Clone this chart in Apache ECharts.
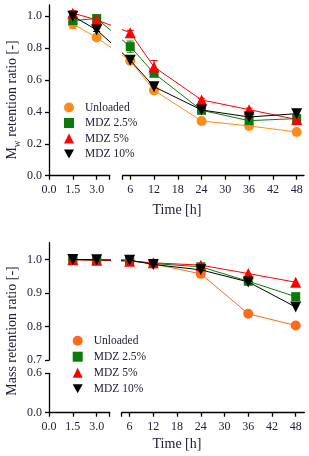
<!DOCTYPE html>
<html>
<head>
<meta charset="utf-8">
<script src="https://cdn.jsdelivr.net/npm/echarts@6/dist/echarts.min.js"></script>
<style>
html,body{margin:0;padding:0;background:#fff;}
#chart{width:309px;height:456px;}
</style>
</head>
<body>
<div id="chart"></div>
<script>
// ---------------- data ----------------
const times = [1.5, 3, 6, 12, 24, 36, 48];
const seriesNames = ['Unloaded', 'MDZ 2.5%', 'MDZ 5%', 'MDZ 10%'];

// Mw retention ratio (top panel)
const mwUnloaded = [0.952, 0.866, 0.721, 0.535, 0.343, 0.312, 0.274];
const mwMdz25    = [0.972, 0.985, 0.809, 0.642, 0.410, 0.345, 0.358];
const mwMdz5     = [1.019, 0.977, 0.896, 0.682, 0.475, 0.414, 0.352];
const mwMdz10    = [1.000, 0.914, 0.724, 0.558, 0.412, 0.368, 0.389];
// Mw error bars (SD)
const mwErrUnloaded = [0.030, 0.010, 0.010, 0.010, 0.010, 0.010, 0.010];
const mwErrMdz25    = [0.020, 0.010, 0.035, 0.020, 0.010, 0.010, 0.010];
const mwErrMdz5     = [0.015, 0.010, 0.015, 0.040, 0.010, 0.010, 0.010];
const mwErrMdz10    = [0.010, 0.010, 0.010, 0.010, 0.010, 0.010, 0.010];

// Mass retention ratio (bottom panel)
const massUnloaded = [1.000, 0.998, 0.997, 0.987, 0.957, 0.838, 0.803];
const massMdz25    = [1.000, 0.998, 0.996, 0.988, 0.978, 0.935, 0.889];
const massMdz5     = [0.999, 0.998, 0.995, 0.990, 0.983, 0.958, 0.932];
const massMdz10    = [1.000, 0.999, 0.998, 0.985, 0.969, 0.933, 0.858];

// tick labels
const xTicksLeft = [0, 1.5, 3.0];
const xTicksRight = [6, 12, 18, 24, 30, 36, 42, 48];
const yTicksMw = [0, 0.2, 0.4, 0.6, 0.8, 1.0];
const yTicksMassUpper = [0.7, 0.8, 0.9, 1.0];
const yTicksMassLower = [0, 0.6];

// ---------------- styling ----------------
const FONT = "'Liberation Serif', 'Times New Roman', serif";
const TXT = '#20203a';
const colorsTop = ['#ff8c1a', '#0a7a0a', '#ff0000', '#000000'];
const colorsBot = ['#ff6a1a', '#0a7a0a', '#ff0000', '#000000'];
const symbols = ['circle', 'rect', 'triangle', 'triangle'];
const symbolRot = [0, 0, 0, 180];
const symbolSizes = [10, 9, 11, 11];
const legendIcons = ['circle', 'rect', 'triangle', 'path://M0,0L10,0L5,9Z'];

const chart = echarts.init(document.getElementById('chart'), null, {renderer: 'canvas'});

const axisLineStyle = {show: true, lineStyle: {color: '#000', width: 1.3}};
const tickStyle = {show: true, length: 4, lineStyle: {color: '#000', width: 1.3}};
const labelStyle = {color: TXT, fontFamily: FONT, fontSize: 12};

// grids: 0 top-left, 1 top-right, 2 bottom-upper-left, 3 bottom-upper-right, 4 bottom-lower-left, 5 bottom-lower-right
const grids = [
  {left: 49, top: 5, width: 60.7, height: 170.7},
  {left: 122.7, top: 5, width: 181.3, height: 170.7},
  {left: 49, top: 242.7, width: 60.7, height: 117.3},
  {left: 121.7, top: 242.7, width: 182.6, height: 117.3},
  {left: 49, top: 373.3, width: 60.7, height: 39.4},
  {left: 121.7, top: 373.3, width: 182.6, height: 39.4}
];

function leftX(grid, show) {
  return {
    type: 'value', gridIndex: grid, min: 0, max: 3.82, show: show,
    axisLine: Object.assign({onZero: false}, axisLineStyle),
    axisTick: Object.assign({customValues: xTicksLeft.concat([3.82])}, tickStyle),
    axisLabel: Object.assign({customValues: xTicksLeft, margin: 8, formatter: v => v.toFixed(1)}, labelStyle),
    splitLine: {show: false}
  };
}
function rightX(grid, show, mn, mx) {
  return {
    type: 'value', gridIndex: grid, min: mn, max: mx, show: show,
    axisLine: Object.assign({onZero: false}, axisLineStyle),
    axisTick: Object.assign({customValues: [mn].concat(xTicksRight)}, tickStyle),
    axisLabel: Object.assign({customValues: xTicksRight, margin: 8, formatter: v => String(v)}, labelStyle),
    splitLine: {show: false}
  };
}
function yAx(grid, show, mn, mx, ticks) {
  return {
    type: 'value', gridIndex: grid, min: mn, max: mx, show: show,
    axisLine: Object.assign({onZero: false}, axisLineStyle),
    axisTick: Object.assign({customValues: ticks || []}, tickStyle),
    axisLabel: Object.assign({customValues: ticks || [], margin: 7, formatter: v => v.toFixed(1)}, labelStyle),
    splitLine: {show: false}
  };
}

const xAxes = [
  leftX(0, true),
  rightX(1, true, 4.1, 49.85),
  leftX(2, false),
  rightX(3, false, 4.0, 50.17),
  leftX(4, true),
  rightX(5, true, 4.0, 50.17)
];
const yAxes = [
  yAx(0, true, 0, 1.07, yTicksMw),
  yAx(1, false, 0, 1.07),
  yAx(2, true, 0.7, 1.05, yTicksMassUpper),
  yAx(3, false, 0.7, 1.05),
  yAx(4, true, 0, 0.6, yTicksMassLower),
  yAx(5, false, 0, 0.6)
];

const panels = [
  {left: 0, right: 1, colors: colorsTop, values: [mwUnloaded, mwMdz25, mwMdz5, mwMdz10],
   errors: [mwErrUnloaded, mwErrMdz25, mwErrMdz5, mwErrMdz10]},
  {left: 2, right: 3, colors: colorsBot, values: [massUnloaded, massMdz25, massMdz5, massMdz10], errors: null}
];

const BREAK = 4; // hours: break between the two x segments
const series = [];
panels.forEach(p => {
  p.values.forEach((vals, i) => {
    const col = p.colors[i];
    [p.left, p.right].forEach(g => {
      const idx = times.map((t, k) => k).filter(k => (g === p.left) ? times[k] < BREAK : times[k] > BREAK);
      if (p.errors) {
        const err = p.errors[i];
        series.push({
          type: 'custom', xAxisIndex: g, yAxisIndex: g, silent: true, z: 1,
          data: idx.map(k => [times[k], vals[k], err[k]]),
          renderItem: (params, api) => {
            const x = api.value(0), y = api.value(1), e = api.value(2);
            const lo = api.coord([x, y - e]), hi = api.coord([x, y + e]);
            const w = 3.5;
            const st = {stroke: col, lineWidth: 1};
            return {type: 'group', children: [
              {type: 'line', shape: {x1: lo[0], y1: lo[1], x2: hi[0], y2: hi[1]}, style: st},
              {type: 'line', shape: {x1: lo[0] - w, y1: lo[1], x2: lo[0] + w, y2: lo[1]}, style: st},
              {type: 'line', shape: {x1: hi[0] - w, y1: hi[1], x2: hi[0] + w, y2: hi[1]}, style: st}
            ]};
          }
        });
      }
      series.push({
        type: 'line', name: seriesNames[i], xAxisIndex: g, yAxisIndex: g,
        data: idx.map(k => [times[k], vals[k]]),
        symbol: symbols[i], symbolRotate: symbolRot[i], symbolSize: symbolSizes[i],
        showSymbol: true, animation: false, clip: true,
        itemStyle: {color: col, opacity: 1},
        lineStyle: {color: col, width: 1},
        z: 3 + i
      });
    });
  });
});

function legendFor(left, top, colors, gap) {
  return {
    orient: 'vertical', left: left, top: top, padding: 0, itemWidth: 10, itemHeight: 10, itemGap: gap,
    selectedMode: false,
    textStyle: {fontFamily: FONT, fontSize: 11.5, color: TXT, lineHeight: 12, padding: [0, 0, 0, 6]},
    data: seriesNames.map((n, i) => ({name: n, icon: legendIcons[i], itemStyle: {color: colors[i]}}))
  };
}

const graphics = [
  {type: 'text', x: 177, y: 210, style: {text: 'Time [h]', font: '14px ' + FONT, fill: TXT, textAlign: 'center', textVerticalAlign: 'middle'}},
  {type: 'text', x: 177, y: 444, style: {text: 'Time [h]', font: '14px ' + FONT, fill: TXT, textAlign: 'center', textVerticalAlign: 'middle'}},
  {type: 'text', x: 12.5, y: 100, rotation: Math.PI / 2,
   style: {text: '{a|M}{b|w}{a| retention ratio [-]}', textAlign: 'center', textVerticalAlign: 'middle', fill: TXT,
     rich: {a: {fontFamily: FONT, fontSize: 14, lineHeight: 20, verticalAlign: 'middle', color: TXT},
            b: {fontFamily: FONT, fontSize: 9.5, lineHeight: 9, verticalAlign: 'bottom', color: TXT}}}},
  {type: 'text', x: 12.5, y: 331, rotation: Math.PI / 2,
   style: {text: 'Mass retention ratio [-]', font: '14px ' + FONT, fill: TXT, textAlign: 'center', textVerticalAlign: 'middle'}}
];

const option = {
  animation: false,
  backgroundColor: '#fff',
  textStyle: {fontFamily: FONT},
  grid: grids.map(g => Object.assign({containLabel: false}, g)),
  xAxis: xAxes,
  yAxis: yAxes,
  legend: [legendFor(64, 101.5, colorsTop, 3.5), legendFor(72.7, 334.7, colorsBot, 4)],
  graphic: graphics,
  series: series
};
chart.setOption(option);

// Bridge the line segments across the x-axis break, using the library's own coordinate conversion.
const bridges = [];
const iL = times.indexOf(3), iR = times.indexOf(6);
panels.forEach(p => {
  p.values.forEach((vals, i) => {
    const col = p.colors[i];
    const pL = chart.convertToPixel({gridIndex: p.left}, [times[iL], vals[iL]]);
    const pR = chart.convertToPixel({gridIndex: p.right}, [times[iR], vals[iR]]);
    const rInL = chart.convertFromPixel({gridIndex: p.left}, pR);
    const lInR = chart.convertFromPixel({gridIndex: p.right}, pL);
    const common = {type: 'line', showSymbol: false, symbol: 'none', silent: true, clip: true, animation: false,
      lineStyle: {color: col, width: 1}, z: 2};
    bridges.push(Object.assign({xAxisIndex: p.left, yAxisIndex: p.left, data: [[times[iL], vals[iL]], rInL]}, common));
    bridges.push(Object.assign({xAxisIndex: p.right, yAxisIndex: p.right, data: [lInR, [times[iR], vals[iR]]]}, common));
  });
});
chart.setOption({series: series.concat(bridges)});
</script>
</body>
</html>
